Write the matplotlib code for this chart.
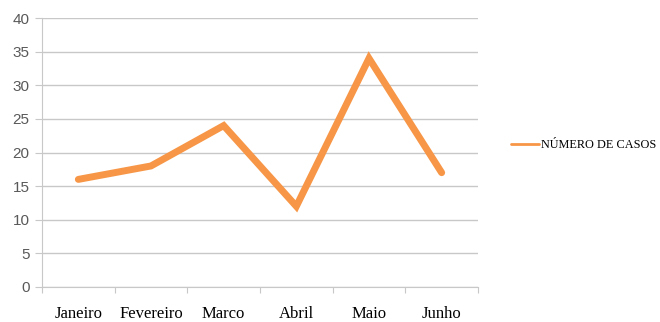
import matplotlib.pyplot as plt
from matplotlib.ticker import MultipleLocator, FixedLocator

meses = ["Janeiro", "Fevereiro", "Marco", "Abril", "Maio", "Junho"]
casos = [16, 18, 24, 12, 34, 17]
serie = "NÚMERO DE CASOS"

cor = "#F79646"
grade = "#C8C8C8"

fig = plt.figure(figsize=(6.6, 3.22), dpi=100)
ax = fig.add_axes([42 / 660, 1 - 287 / 322, (478 - 42) / 660, (287 - 18) / 322])

x = list(range(len(meses)))
ax.plot(x, casos, color=cor, linewidth=5, solid_capstyle="round",
        solid_joinstyle="miter", label=serie)

ax.set_xlim(-0.5, len(meses) - 0.5)
ax.set_ylim(0, 40)
ax.yaxis.set_major_locator(MultipleLocator(5))
ax.grid(axis="y", color=grade, linewidth=1)
ax.set_axisbelow(True)

# ticks nas fronteiras das categorias, rotulos no centro
ax.xaxis.set_major_locator(FixedLocator([i - 0.5 for i in range(len(meses) + 1)]))
ax.xaxis.set_minor_locator(FixedLocator(x))
ax.set_xticklabels([])
ax.set_xticklabels(meses, minor=True, fontfamily="Liberation Serif", fontsize=12)
ax.tick_params(axis="x", which="major", length=4, color=grade, direction="out")
ax.tick_params(axis="x", which="minor", length=0, pad=14)
ax.tick_params(axis="y", length=5, color=grade, labelcolor="#595959",
               labelsize=11, pad=4)
for lab in ax.get_yticklabels():
    lab.set_fontfamily("Liberation Sans")

for s in ["top", "right"]:
    ax.spines[s].set_visible(False)
for s in ["left", "bottom"]:
    ax.spines[s].set_color(grade)

leg = ax.legend(loc="center left", bbox_to_anchor=(506 / 660, 1 - 145 / 322),
                bbox_transform=fig.transFigure, frameon=False, handlelength=2.3,
                handletextpad=0.15, borderaxespad=0,
                prop={"family": "Liberation Serif", "size": 8.8})
leg.get_lines()[0].set_linewidth(2)

fig.savefig("out.png", dpi=100)
